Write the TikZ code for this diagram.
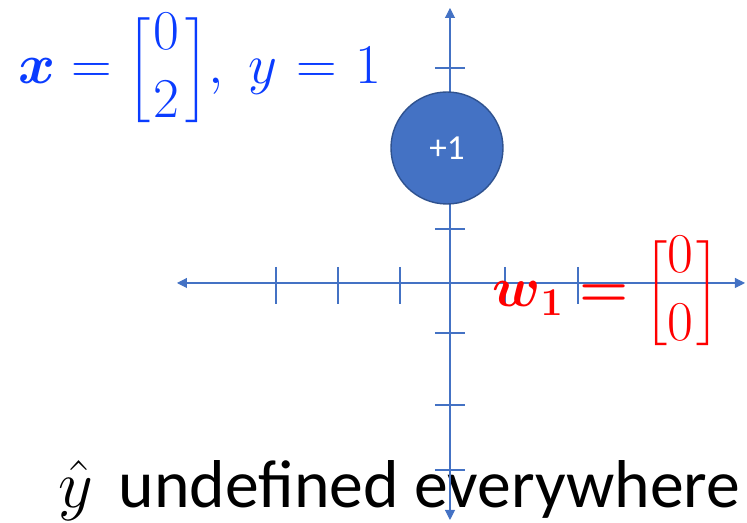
\RequirePackage{fix-cm}
\documentclass[tikz,border=0pt]{standalone}
\usepackage{amsmath}
\usepackage{fontspec}
\newfontfamily\calibri{Carlito}
\usetikzlibrary{arrows.meta}

\definecolor{axisblue}{HTML}{4472C4}
\definecolor{axisdark}{HTML}{2F528F}
\definecolor{labelblue}{RGB}{10,60,255}

\begin{document}
\begin{tikzpicture}[
    axisline/.style={axisblue, line width=0.6pt, {Triangle[length=2mm, width=2mm]}-{Triangle[length=2mm, width=2mm]}},
    tick/.style={axisblue, line width=0.6pt},
    point/.style={circle, draw=axisdark, line width=0.8pt, fill=axisblue, minimum size=2.24cm, inner sep=0pt, text=white, font=\calibri\fontsize{20}{24}\selectfont},
    mathlabel/.style={anchor=base west, inner sep=0pt, font=\fontsize{32}{39}\selectfont}
]
\useasboundingbox (-9,-4.8) rectangle (5.94,5.66);

% Caption (under the axis)
\node[anchor=base west, inner sep=0pt, font=\calibri\fontsize{38.5}{42}\selectfont] (caption) at (-7.84,-4.5) {$\hat{y}$\hspace{6pt} undefined everywhere};

% Axes
\coordinate (xl) at (-5.46,0);
\coordinate (xr) at (5.9,0);
\coordinate (yb) at (0,-4.74);
\coordinate (yt) at (0,5.5);
\draw[axisline] (xl) -- (xr);
\draw[axisline] (yb) -- (yt);

% Ticks
\foreach \tx in {-3.48,-2.24,-1.0,1.1,2.56}
    \draw[tick] (\tx,0.32) -- (\tx,-0.42);
\foreach \ty in {4.3,1.08,-1.0,-2.44,-3.74}
    \draw[tick] (-0.3,\ty) -- (0.3,\ty);

% Data point
\node[point] (plus) at (-0.06,2.7) {+1};

% Labels
\node[mathlabel, labelblue] (sample) at (-8.64,3.98) {$\boldsymbol{x}=\Bigl[\mkern1mu\begin{matrix}0\\2\end{matrix}\mkern2mu\Bigr],\;y\mkern1mu=\mkern1mu1$};
\node[mathlabel, red] (weight) at (0.84,-0.48) {$\boldsymbol{w}_{\boldsymbol{1}}\boldsymbol{=}\Bigl[\begin{matrix}0\\0\end{matrix}\mkern1mu\Bigr]$};

\end{tikzpicture}
\end{document}
